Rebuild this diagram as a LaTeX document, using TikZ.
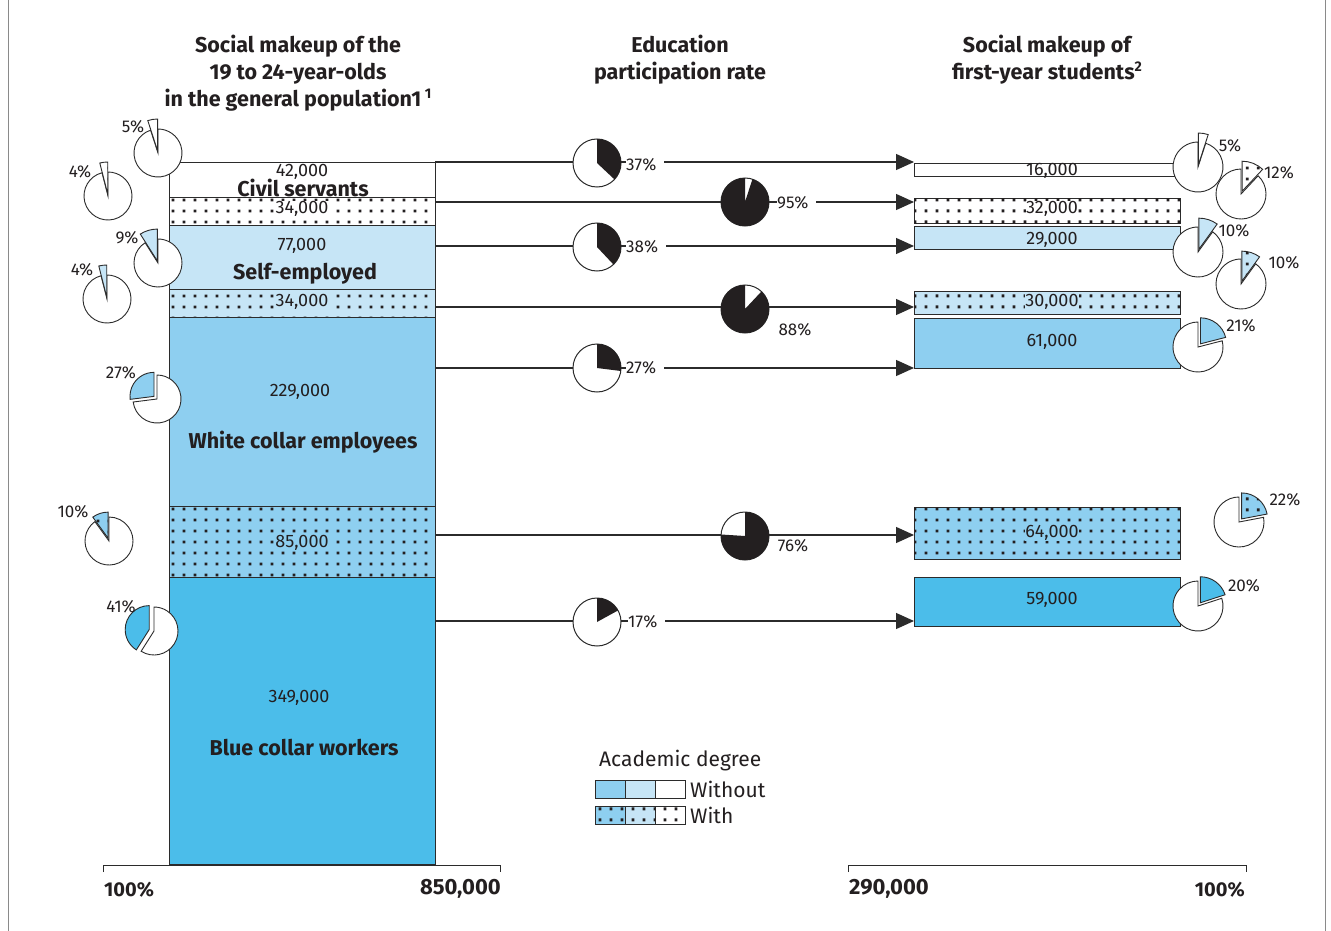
\documentclass[tikz,border=0pt]{standalone}
\usepackage{fontspec}
\setmainfont{Fira Sans}
\usetikzlibrary{arrows.meta,patterns,calc}
\definecolor{cB}{HTML}{4BBDEA}
\definecolor{cM}{HTML}{8ECFF0}
\definecolor{cL}{HTML}{C6E5F6}
\definecolor{cLine}{HTML}{2B2B2B}
\definecolor{cText}{HTML}{231F20}
\definecolor{cFrame}{HTML}{8A8A8A}
\pgfdeclarepatternformonly{mydotsA}{\pgfpointorigin}{\pgfqpoint{10.69pt}{10.69pt}}{\pgfqpoint{10.69pt}{10.69pt}}{%
  \pgfpathrectangle{\pgfqpoint{0.6pt}{2.7pt}}{\pgfqpoint{2.8pt}{2.8pt}}%
  \pgfusepath{fill}}
\pgfdeclarepatternformonly{mydotsB}{\pgfpointorigin}{\pgfqpoint{10.69pt}{10.69pt}}{\pgfqpoint{10.69pt}{10.69pt}}{%
  \pgfpathrectangle{\pgfqpoint{5.9pt}{2.7pt}}{\pgfqpoint{2.8pt}{2.8pt}}%
  \pgfusepath{fill}}
\tikzset{
  wfill/.style={fill=white},
  lfill/.style={fill=cL},
  mfill/.style={fill=cM},
  bfill/.style={fill=cB},
  withdots/.style={postaction={pattern=mydotsA,pattern color=cText}},
  withdotsB/.style={postaction={pattern=mydotsB,pattern color=cText}},
  wdots/.style={fill=white,withdots},
  ldots/.style={fill=cL,withdots},
  mdots/.style={fill=cM,withdots},
  wdotsB/.style={fill=white,withdotsB},
  ldotsB/.style={fill=cL,withdotsB},
  mdotsB/.style={fill=cM,withdotsB},
  band/.style={draw=cLine,line width=0.9pt,anchor=north west,inner sep=0pt,minimum width=266pt},
  num/.style={font=\fontsize{18}{20}\selectfont,text=cText,inner sep=0.5pt},
  bname/.style={font=\bfseries\fontsize{21.5}{23}\selectfont,text=cText,inner sep=0pt},
  pct/.style={font=\fontsize{17}{19}\selectfont,text=cText,inner sep=0pt},
  pctl/.style={font=\fontsize{17}{19}\selectfont,text=cText,inner xsep=0pt,inner ysep=2pt,fill=white,anchor=west},
  ttl/.style={font=\bfseries\fontsize{21.5}{27}\selectfont,text=cText,align=center},
  axl/.style={font=\bfseries\fontsize{22}{24}\selectfont,text=cText,inner sep=0pt},
  axp/.style={font=\bfseries\fontsize{20}{22}\selectfont,text=cText,inner sep=0pt},
  leg/.style={font=\fontsize{21}{23}\selectfont,text=cText,inner sep=0pt,anchor=west},
  conn/.style={draw=cLine,line width=1.2pt,-{Triangle[length=18pt,width=16pt]}},
  mpie/.style={circle,draw=cLine,line width=1pt,fill=white,inner sep=0pt,minimum size=48pt},
  pieline/.style={draw=cLine,line width=0.9pt,fill=white,line join=miter},
  legbox/.style={draw=cLine,line width=0.9pt,anchor=north west,inner sep=0pt,minimum width=30pt,minimum height=18pt},
  axis/.style={draw=cLine,line width=1pt}
}
% left exploded pie: center, pct, fill style, slice radius, offset, pie radius
\newcommand\explodeL[6]{%
  \pgfmathsetmacro\xa{3.6*#2}%
  \pgfmathsetmacro\xb{90+\xa/2}%
  \pgfmathsetmacro\xe{90+\xa}%
  \draw[pieline] (#1) -- ++(\xe:#6pt) arc[start angle=\xe,end angle=450,radius=#6pt] -- cycle;
  \draw[pieline,#3] ($(#1)+(\xb:#5pt)$) -- ++(90:#4pt) arc[start angle=90,end angle=\xe,radius=#4pt] -- cycle;
}
\newcommand\explodeR[6]{%
  \pgfmathsetmacro\xa{3.6*#2}%
  \pgfmathsetmacro\xb{90-\xa/2}%
  \pgfmathsetmacro\xe{90-\xa}%
  \draw[pieline] (#1) -- ++(\xe:#6pt) arc[start angle=\xe,end angle=-270,radius=#6pt] -- cycle;
  \draw[pieline,#3] ($(#1)+(\xb:#5pt)$) -- ++(90:#4pt) arc[start angle=90,end angle=\xe,radius=#4pt] -- cycle;
}
\begin{document}
\begin{tikzpicture}[x=1pt,y=1pt]
\useasboundingbox (0,0) rectangle (1331,-931);
\fill[white] (0,0) rectangle (1331,-931);
\draw[cFrame,line width=1pt] (8,0) -- (8,-931);
\draw[cFrame,line width=1pt] (1325,0) -- (1325,-931);

% titles
\node[ttl] (t1) at (298,-73) {Social makeup of the\\19 to 24-year-olds\\in the general population1\,\raisebox{8pt}{\fontsize{14}{14}\selectfont 1}};
\node[ttl] (t2) at (680,-60) {Education\\participation rate};
\node[ttl] (t3) at (1047,-60) {Social makeup of\\first-year students\raisebox{8pt}{\fontsize{14}{14}\selectfont 2}};

% connectors
\foreach \i/\y in {1/162,2/202,3/246,4/307,5/368,6/535,7/621}{
  \coordinate (s\i) at (435,-\y);
  \coordinate (e\i) at (914,-\y);
}
\foreach \i in {1,...,7}{\draw[conn] (s\i) -- (e\i);}

% left stack
\node[band,wfill,minimum height=35pt] (a1) at (169,-162) {};
\node[band,wdots,minimum height=28pt] (a2) at (169,-197) {};
\node[band,lfill,minimum height=64pt] (a3) at (169,-225) {};
\node[band,ldots,minimum height=28pt] (a4) at (169,-289) {};
\node[band,mfill,minimum height=189pt] (a5) at (169,-317) {};
\node[band,mdots,minimum height=71pt] (a6) at (169,-506) {};
\node[band,bfill,minimum height=287pt] (a7) at (169,-577) {};

\node[num] (n1) at (302,-172) {42,000};
\node[bname] (c1) at (303,-188) {Civil servants};
\node[num,fill=white] (n2) at (302,-209) {34,000};
\node[num] (n3) at (302,-246) {77,000};
\node[bname] (c2) at (305,-274) {Self-employed};
\node[num,fill=cL] (n4) at (302,-302) {34,000};
\node[num] (n5) at (300,-392) {229,000};
\node[bname] (c3) at (303,-442) {White collar employees};
\node[num,fill=cM] (n6) at (302,-543) {85,000};
\node[num] (n7) at (299,-698) {349,000};
\node[bname] (c4) at (304,-748) {Blue collar workers};

% right bars
\node[band,wfill,minimum height=13pt] (r1) at (914,-163) {};
\node[band,wdotsB,minimum height=25pt] (r2) at (914,-198) {};
\node[band,lfill,minimum height=23pt] (r3) at (914,-226) {};
\node[band,ldotsB,minimum height=23pt] (r4) at (914,-291) {};
\node[band,mfill,minimum height=50pt] (r5) at (914,-318) {};
\node[band,mdotsB,minimum height=52pt] (r6) at (914,-507) {};
\node[band,bfill,minimum height=49pt] (r7) at (914,-577) {};

\node[num] (q1) at (1052,-171) {16,000};
\node[num,fill=white] (q2) at (1052,-209) {32,000};
\node[num,fill=cL] (q3) at (1052,-240) {29,000};
\node[num,fill=cL] (q4) at (1052,-302) {30,000};
\node[num] (q5) at (1052,-342) {61,000};
\node[num,fill=cM] (q6) at (1052,-533) {64,000};
\node[num] (q7) at (1052,-600) {59,000};

% middle pies
\node[mpie] (m1) at (597,-163) {};
\fill[cText] (m1.center) -- ++(90:24pt) arc[start angle=90,end angle=-43.2,radius=24pt] -- cycle;
\node[pctl] (p1) at (626,-165) {37\%\kern8pt};
\node[mpie] (m2) at (745,-202) {};
\fill[cText] (m2.center) -- ++(72:24pt) arc[start angle=72,end angle=-270,radius=24pt] -- cycle;
\node[pctl] (p2) at (777,-203) {95\%\kern8pt};
\node[mpie] (m3) at (597,-247) {};
\fill[cText] (m3.center) -- ++(90:24pt) arc[start angle=90,end angle=-46.8,radius=24pt] -- cycle;
\node[pctl] (p3) at (626,-247) {38\%\kern8pt};
\node[mpie] (m4) at (745,-309) {};
\fill[cText] (m4.center) -- ++(46.8:24pt) arc[start angle=46.8,end angle=-270,radius=24pt] -- cycle;
\node[pct] (p4) at (795,-330) {88\%};
\node[mpie] (m5) at (597,-368) {};
\fill[cText] (m5.center) -- ++(90:24pt) arc[start angle=90,end angle=-7.2,radius=24pt] -- cycle;
\node[pctl] (p5) at (626,-368) {27\%\kern8pt};
\node[mpie] (m6) at (745,-536) {};
\fill[cText] (m6.center) -- ++(90:24pt) arc[start angle=90,end angle=-183.6,radius=24pt] -- cycle;
\node[pct] (p6) at (793,-546) {76\%};
\node[mpie] (m7) at (597,-622) {};
\fill[cText] (m7.center) -- ++(90:24pt) arc[start angle=90,end angle=28.8,radius=24pt] -- cycle;
\node[pctl] (p7) at (628,-622) {17\%\kern8pt};

% left exploded pies
\coordinate (L1) at (158,-153);
\coordinate (L2) at (108,-196);
\coordinate (L3) at (158,-263);
\coordinate (L4) at (107,-299);
\coordinate (L5) at (157,-399);
\coordinate (L6) at (109,-541);
\coordinate (L7) at (154,-631);
\explodeL{L1}{5}{wfill}{32}{2}{24}
\explodeL{L2}{4}{wdots}{32}{2}{24}
\explodeL{L3}{9}{lfill}{32}{2}{24}
\explodeL{L4}{4}{ldots}{32}{2}{24}
\explodeL{L5}{27}{mfill}{24}{4}{24}
\explodeL{L6}{10}{mdots}{26}{3}{24}
\explodeL{L7}{41}{bfill}{24}{5}{24}
\node[pct] (lp1) at (133,-127) {5\%};
\node[pct] (lp2) at (80,-172) {4\%};
\node[pct] (lp3) at (127,-238) {9\%};
\node[pct] (lp4) at (82,-270) {4\%};
\node[pct] (lp5) at (121,-373) {27\%};
\node[pct] (lp6) at (73,-512) {10\%};
\node[pct] (lp7) at (121,-607) {41\%};

% right exploded pies
\coordinate (R1) at (1198,-167);
\coordinate (R2) at (1241,-194);
\coordinate (R3) at (1198,-252);
\coordinate (R4) at (1241,-284);
\coordinate (R5) at (1198,-347);
\coordinate (R6) at (1239,-522);
\coordinate (R7) at (1198,-606);
\explodeR{R1}{5}{wfill}{32}{2}{25}
\explodeR{R2}{12}{wdotsB}{30}{3}{25}
\explodeR{R3}{10}{lfill}{31}{3}{25}
\explodeR{R4}{10}{ldotsB}{30}{3}{25}
\explodeR{R5}{21}{mfill}{26}{4}{25}
\explodeR{R6}{22}{mdotsB}{26}{4}{25}
\explodeR{R7}{20}{bfill}{26}{4}{25}
\node[pct] (rp1) at (1230,-146) {5\%};
\node[pct] (rp2) at (1279,-173) {12\%};
\node[pct] (rp3) at (1234,-231) {10\%};
\node[pct] (rp4) at (1284,-263) {10\%};
\node[pct] (rp5) at (1241,-326) {21\%};
\node[pct] (rp6) at (1285,-500) {22\%};
\node[pct] (rp7) at (1244,-586) {20\%};

% legend
\node[leg] (lg) at (599,-761) {Academic degree};
\node[legbox,mfill] (k1) at (595,-780) {};
\node[legbox,lfill] (k2) at (625,-780) {};
\node[legbox,wfill] (k3) at (655,-780) {};
\node[leg] (lw1) at (690,-789) {Without};
\node[legbox,mdots] (k4) at (595,-806) {};
\node[legbox,ldots] (k5) at (625,-806) {};
\node[legbox,wdots] (k6) at (655,-806) {};
\node[leg] (lw2) at (690,-815) {With};

% axes
\draw[axis] (103,-872) -- (103,-865) -- (500,-865) -- (500,-872);
\draw[axis] (848,-872) -- (848,-865) -- (1246,-865) -- (1246,-872);
\node[axp,anchor=west] (x1) at (104,-890) {100\%};
\node[axl,anchor=east] (x2) at (501,-889) {850,000};
\node[axl,anchor=west] (x3) at (849,-889) {290,000};
\node[axp,anchor=east] (x4) at (1245,-890) {100\%};
\end{tikzpicture}
\end{document}
